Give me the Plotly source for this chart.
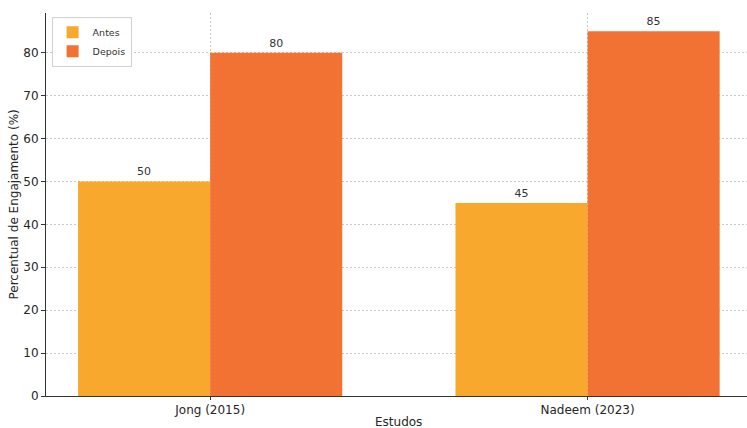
import plotly.graph_objects as go

estudos = ["Jong (2015)", "Nadeem (2023)"]
antes = [50, 45]
depois = [80, 85]
series_names = ["Antes", "Depois"]
y_ticks = [0, 10, 20, 30, 40, 50, 60, 70, 80]

x_pos = [0, 1]
font_family = "DejaVu Sans"
tick_color = "#262626"

fig = go.Figure()
fig.add_trace(go.Bar(
    x=[p - 0.175 for p in x_pos], y=antes, name=series_names[0], width=0.35,
    marker=dict(color="#F8A82D", line=dict(width=0)),
    text=[str(v) for v in antes], textposition="outside",
    textfont=dict(size=11, color="#333333", family=font_family),
    cliponaxis=False,
))
fig.add_trace(go.Bar(
    x=[p + 0.175 for p in x_pos], y=depois, name=series_names[1], width=0.35,
    marker=dict(color="#F17233", line=dict(width=0)),
    text=[str(v) for v in depois], textposition="outside",
    textfont=dict(size=11, color="#333333", family=font_family),
    cliponaxis=False,
))

fig.update_layout(
    width=747, height=428,
    margin=dict(l=46, r=0, t=13, b=32, autoexpand=False),
    paper_bgcolor="white", plot_bgcolor="white",
    font=dict(family=font_family, size=12, color=tick_color),
    barmode="overlay",
    showlegend=True,
    legend=dict(
        x=0.008, y=0.99, xanchor="left", yanchor="top",
        bgcolor="rgba(255,255,255,0.9)", bordercolor="#d0d0d0", borderwidth=1,
        font=dict(size=9.5, family=font_family, color="#333333"),
        itemwidth=30, tracegroupgap=0,
    ),
    xaxis=dict(
        range=[-0.435, 1.4225], automargin=False,
        tickmode="array", tickvals=x_pos, ticktext=estudos,
        showline=True, linecolor="#333333", linewidth=1,
        ticks="outside", ticklen=3, tickcolor="#333333",
        showgrid=True, gridcolor="#c8c8c8", griddash="2px,2px", gridwidth=1,
        zeroline=False,
        tickfont=dict(size=12, color=tick_color),
    ),
    yaxis=dict(
        range=[0, 89.25], automargin=False,
        tickmode="array", tickvals=y_ticks,
        showline=True, linecolor="#333333", linewidth=1,
        ticks="outside", ticklen=4, tickcolor="#333333",
        showgrid=True, gridcolor="#c8c8c8", griddash="2px,2px", gridwidth=1,
        zeroline=False,
        tickfont=dict(size=12, color=tick_color),
    ),
    annotations=[
        dict(text="Estudos", xref="paper", yref="paper", x=(398 - 46) / 701, y=0,
             xanchor="center", yanchor="top", yshift=-17, showarrow=False,
             font=dict(size=12, color=tick_color)),
        dict(text="Percentual de Engajamento (%)", xref="paper", yref="paper",
             x=0, y=0.5, xanchor="right", yanchor="middle", xshift=-24,
             textangle=-90, showarrow=False,
             font=dict(size=12, color=tick_color)),
    ],
)

fig.write_html(
    "out.html",
    config={"displayModeBar": False},
    post_script="document.body.style.margin='0px';document.body.style.overflow='hidden';",
)
